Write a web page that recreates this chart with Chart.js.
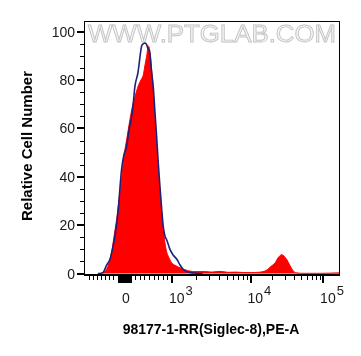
<!DOCTYPE html>
<html>
<head>
<meta charset="utf-8">
<script src="https://cdn.jsdelivr.net/npm/chart.js@4.4.0/dist/chart.umd.min.js"></script>
<style>
  body { margin: 0; background: #fff; }
  canvas { display: block; }
</style>
</head>
<body>
<canvas id="histChart" width="361" height="356"></canvas>
<script>
// Siglec-8 stained sample (red, filled) - PE-A intensity and relative cell count
const sampleX = [-627, -554, -506, -434, -345, -289, -224, -169, -104, -60, -24, 22, 87, 141, 196, 267, 326, 376,
    413, 450, 485, 511, 559, 598, 630, 667, 702, 739, 776, 811, 848, 885, 920, 993, 1124, 1264, 1464, 1695, 2081,
    2632, 3231, 4085, 5171, 6534, 8261, 10000, 12690, 14870, 16890, 19180, 21780, 23950, 26940, 28970, 31870,
    35070, 38550, 42440, 56460, 90900, 171600];
const sampleY = [0, 0.3, 0.8, 3, 8.6, 15, 22.3, 30, 38.8, 46, 51, 56, 63.6, 69, 73, 77.5, 80, 82,
    86, 89.8, 94, 93, 84.3, 74, 63.6, 53, 43, 34, 25, 18, 12.8, 9, 7.2, 4.5, 3.2, 2.4, 1.6, 1.0, 0.8,
    0.8, 0.6, 0.9, 0.5, 0.6, 0.4, 0.4, 0.5, 0.8, 1.5, 3.0, 4.4, 6.5, 7.8, 7.2, 5.6,
    3.2, 1.2, 0.3, 0.1, 0.1, 0.3];

// Control (blue outline)
const controlX = [-675, -547, -465, -386, -325, -265, -193, -104, -48, 15, 65, 124, 163, 196, 261, 341, 380, 413,
    450, 478, 522, 554, 593, 630, 667, 702, 739, 776, 811, 848, 885, 957, 1030, 1160, 1260, 1390, 1520, 1700,
    1900, 2450];
const controlY = [0, 0.5, 3.5, 5.8, 10, 15.4, 25, 43, 49, 52.6, 59, 65, 71, 77.4, 83, 94, 95, 95.3,
    94.6, 93, 91, 84, 77.4, 67, 56.7, 46, 36, 27, 19.5, 15.5, 14, 10, 7.8, 5.8, 3.7, 1.7, 0.9, 0.5,
    0.2, 0];

// Axis ticks
const yMajorTicks = [0, 20, 40, 60, 80, 100];
const yMinorTicks = [5, 10, 15, 25, 30, 35, 45, 50, 55, 65, 70, 75, 85, 90, 95, 100];
const xDecades = [3, 4, 5];
const xMinorTicks = [-900, -800, -700, -600, -500, -400, -300, 200, 300, 400, 500, 600, 700, 800, 900,
    2000, 3000, 4000, 5000, 6000, 7000, 8000, 9000,
    20000, 30000, 40000, 50000, 60000, 70000, 80000, 90000];
const xZeroCluster = [-200, -180, -160, -140, -120, -100, -80, -60, -40, -20, 0, 20, 40, 60, 80, 100];

// biexponential-like display transform (linear around 0, log above 10^3)
function toAxis(v) {
    if (v <= 0) return v / 1000 * 0.902;
    if (v <= 1000) return v / 1000;
    if (v <= 10000) return 1 + Math.log10(v / 1000) * 1.707;
    return 2.707 + Math.log10(v / 10000) * 1.576;
}

function toPoints(xs, ys) {
    return xs.map((x, i) => ({ x: toAxis(x), y: ys[i] }));
}

const FONT = '"Liberation Sans", Arial, sans-serif';

// Watermark behind the data
const watermarkPlugin = {
    id: 'watermark',
    beforeDatasetsDraw(chart) {
        const ctx = chart.ctx;
        const area = chart.chartArea;
        ctx.save();
        ctx.font = '24px ' + FONT;
        const text = 'WWW.PTGLAB.COM';
        const w = ctx.measureText(text).width;
        const target = area.right - area.left - 8;
        ctx.translate(area.left + 4, 42);
        ctx.scale(target / w, 1);
        ctx.fillStyle = '#f6f6f6';
        ctx.strokeStyle = '#c4c4c4';
        ctx.lineWidth = 0.9;
        ctx.textBaseline = 'alphabetic';
        ctx.fillText(text, 0, 0);
        ctx.strokeText(text, 0, 0);
        ctx.restore();
    }
};

// Frame, ticks and labels drawn on top
const axesPlugin = {
    id: 'flowAxes',
    afterDraw(chart) {
        const ctx = chart.ctx;
        const area = chart.chartArea;
        const xs = chart.scales.x;
        const ys = chart.scales.y;
        ctx.save();
        ctx.strokeStyle = '#000';
        ctx.fillStyle = '#1a1a1a';

        // frame
        ctx.lineWidth = 1;
        ctx.strokeRect(area.left + 0.5, area.top + 0.5, area.right - area.left - 1, area.bottom - area.top);
        ctx.lineWidth = 2;
        ctx.beginPath();
        ctx.moveTo(area.left, area.bottom);
        ctx.lineTo(area.right, area.bottom);
        ctx.stroke();

        // y ticks
        yMinorTicks.forEach(t => {
            const y = Math.round(ys.getPixelForValue(t)) + 0.5;
            ctx.lineWidth = 1;
            ctx.beginPath();
            ctx.moveTo(area.left - 4, y);
            ctx.lineTo(area.left, y);
            ctx.stroke();
        });
        ctx.font = '14px ' + FONT;
        ctx.textAlign = 'right';
        ctx.textBaseline = 'middle';
        yMajorTicks.forEach(t => {
            const y = Math.round(ys.getPixelForValue(t));
            ctx.lineWidth = 2;
            ctx.beginPath();
            ctx.moveTo(area.left - 7, y);
            ctx.lineTo(area.left, y);
            ctx.stroke();
            ctx.fillText(String(t), area.left - 9, y + 1);
        });

        // x ticks
        const bottom = area.bottom + 1;
        xMinorTicks.forEach(t => {
            const x = Math.round(xs.getPixelForValue(toAxis(t))) + 0.5;
            ctx.lineWidth = 1;
            ctx.beginPath();
            ctx.moveTo(x, bottom);
            ctx.lineTo(x, bottom + 4);
            ctx.stroke();
        });
        xZeroCluster.forEach(t => {
            const x = Math.round(xs.getPixelForValue(toAxis(t))) + 0.5;
            ctx.lineWidth = 1;
            ctx.beginPath();
            ctx.moveTo(x, bottom);
            ctx.lineTo(x, bottom + 7);
            ctx.stroke();
        });
        xDecades.forEach(d => {
            const x = Math.round(xs.getPixelForValue(toAxis(Math.pow(10, d))));
            ctx.lineWidth = 2;
            ctx.beginPath();
            ctx.moveTo(x, bottom);
            ctx.lineTo(x, bottom + 7);
            ctx.stroke();
        });

        // x labels
        ctx.textBaseline = 'alphabetic';
        ctx.textAlign = 'center';
        ctx.font = '14px ' + FONT;
        ctx.fillText('0', xs.getPixelForValue(toAxis(0)), 303);
        ctx.textAlign = 'left';
        xDecades.forEach(d => {
            const x = xs.getPixelForValue(toAxis(Math.pow(10, d)));
            ctx.font = '14px ' + FONT;
            ctx.fillText('10', x - 3, 303);
            const w = ctx.measureText('10').width;
            ctx.font = '13px ' + FONT;
            ctx.fillText(String(d), x - 3 + w + 1, 295);
        });

        // axis titles
        ctx.fillStyle = '#000';
        ctx.font = 'bold 14px ' + FONT;
        ctx.textAlign = 'center';
        ctx.textBaseline = 'middle';
        ctx.fillText('98177-1-RR(Siglec-8),PE-A', 211, 330);
        ctx.translate(28, 146);
        ctx.rotate(-Math.PI / 2);
        ctx.font = 'bold 15px ' + FONT;
        ctx.fillText('Relative Cell Number', 0, 0);
        ctx.restore();
    }
};

new Chart(document.getElementById('histChart'), {
    type: 'line',
    data: {
        datasets: [
            {
                label: 'Control',
                data: toPoints(controlX, controlY),
                borderColor: '#1f1f78',
                borderWidth: 1.6,
                fill: false,
                pointRadius: 0,
                cubicInterpolationMode: 'monotone',
                order: 0
            },
            {
                label: 'Siglec-8',
                data: toPoints(sampleX, sampleY),
                borderColor: '#ff0000',
                backgroundColor: '#ff0000',
                borderWidth: 1,
                fill: 'origin',
                pointRadius: 0,
                cubicInterpolationMode: 'monotone',
                order: 1
            }
        ]
    },
    options: {
        responsive: false,
        animation: false,
        devicePixelRatio: 1,
        layout: {
            padding: { left: 84, right: 21, top: 21, bottom: 81 }
        },
        scales: {
            x: { type: 'linear', min: -0.91, max: 4.65, display: false },
            y: { min: -0.6, max: 104.4, display: false }
        },
        plugins: {
            legend: { display: false },
            tooltip: { enabled: false }
        }
    },
    plugins: [watermarkPlugin, axesPlugin]
});
</script>
</body>
</html>
